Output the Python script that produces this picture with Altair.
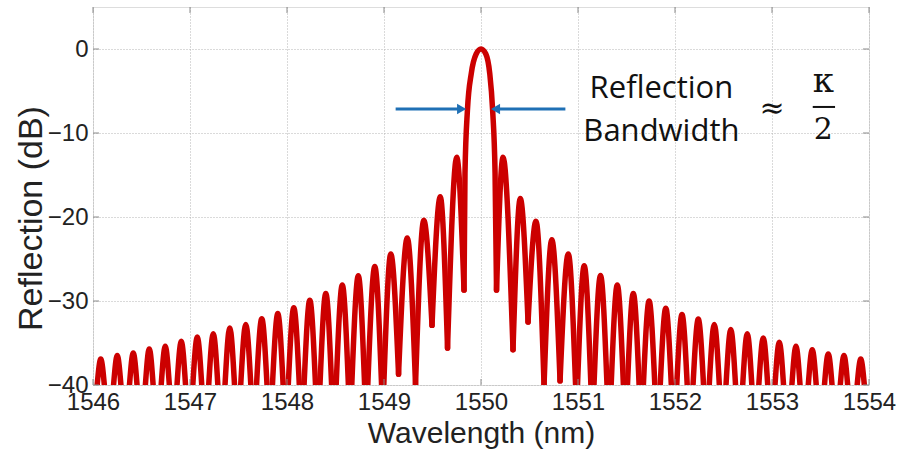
import altair as alt
import pandas as pd

# ---- data ----
# Each lobe of the spectrum: where it leaves the bottom (or its visible null),
# its peak, and where it returns to the bottom (or its visible null).
lobe_start_wl = [1546.043, 1546.212, 1546.376, 1546.54, 1546.703, 1546.866, 1547.029, 1547.193,
                 1547.361, 1547.523, 1547.686, 1547.85, 1548.013, 1548.176, 1548.34, 1548.507,
                 1548.668, 1548.833, 1548.998, 1549.15, 1549.325, 1549.495, 1549.655,
                 1550.16, 1550.33, 1550.485, 1550.65, 1550.815, 1550.995, 1551.165, 1551.342,
                 1551.51, 1551.674, 1551.848, 1552.018, 1552.186, 1552.353, 1552.526, 1552.698,
                 1552.864, 1553.031, 1553.205, 1553.374, 1553.541, 1553.704, 1553.878]
lobe_start_db = [-40, -40, -40, -40, -40, -40, -40, -40,
                 -40, -40, -40, -40, -40, -40, -40, -40,
                 -40, -40, -40, -38.7, -40, -32.9, -35.6,
                 -28.7, -35.8, -32.5, -40, -39.5, -40, -40, -40,
                 -40, -40, -40, -40, -40, -40, -40, -40,
                 -40, -40, -40, -40, -40, -40, -40]
lobe_peak_wl = [1546.08, 1546.25, 1546.415, 1546.58, 1546.745, 1546.91, 1547.075, 1547.24,
                1547.41, 1547.575, 1547.74, 1547.905, 1548.07, 1548.235, 1548.40, 1548.57,
                1548.735, 1548.905, 1549.07, 1549.24, 1549.41, 1549.58, 1549.75,
                1550.227, 1550.405, 1550.567, 1550.73, 1550.90, 1551.064, 1551.232, 1551.405,
                1551.57, 1551.733, 1551.905, 1552.072, 1552.24, 1552.405, 1552.575, 1552.745,
                1552.91, 1553.075, 1553.247, 1553.415, 1553.58, 1553.742, 1553.915]
lobe_peak_db = [-36.9, -36.5, -36.2, -35.7, -35.4, -34.8, -34.3, -33.9,
                -33.2, -32.8, -32.1, -31.5, -30.8, -29.9, -29.1, -28.1,
                -27.0, -25.9, -24.4, -22.5, -20.4, -17.6, -12.9,
                -12.9, -17.8, -20.5, -22.7, -24.4, -25.8, -26.95, -28.1,
                -29.1, -30.0, -30.85, -31.6, -32.15, -32.8, -33.4, -33.9,
                -34.4, -34.9, -35.4, -35.8, -36.3, -36.5, -36.9]
lobe_end_wl = [1546.117, 1546.288, 1546.454, 1546.62, 1546.787, 1546.954, 1547.121, 1547.287,
               1547.459, 1547.627, 1547.794, 1547.96, 1548.127, 1548.294, 1548.46, 1548.633,
               1548.80, 1548.975, 1549.15, 1549.325, 1549.495, 1549.655, 1549.825,
               1550.33, 1550.485, 1550.65, 1550.815, 1550.975, 1551.133, 1551.299, 1551.468,
               1551.63, 1551.792, 1551.962, 1552.126, 1552.294, 1552.457, 1552.624, 1552.792,
               1552.956, 1553.119, 1553.289, 1553.456, 1553.619, 1553.78, 1553.952]
lobe_end_db = [-40, -40, -40, -40, -40, -40, -40, -40,
               -40, -40, -40, -40, -40, -40, -40, -40,
               -40, -40, -38.7, -40, -32.9, -35.6, -28.7,
               -35.8, -32.5, -40, -39.5, -40, -40, -40, -40,
               -40, -40, -40, -40, -40, -40, -40, -40,
               -40, -40, -40, -40, -40, -40, -40]

# main reflection lobe
main_wl = [1549.825, 1549.835, 1549.86, 1549.90, 1549.95, 1550.0,
           1550.05, 1550.09, 1550.12, 1550.145, 1550.16]
main_db = [-28.7, -14.8, -7.3, -2.9, -0.6, 0.0,
           -0.6, -2.9, -7.3, -14.8, -28.7]

x_ticks = [1546, 1547, 1548, 1549, 1550, 1551, 1552, 1553, 1554]
y_ticks = [-40, -30, -20, -10, 0]

# annotation: arrows and text
arrow_x1 = [1549.12, 1550.87]
arrow_x2 = [1549.80, 1550.15]
arrow_y = [-7.15, -7.15]
arrow_shape = ["triangle-right", "triangle-left"]
label_text = ["Reflection", "Bandwidth"]
label_x = [1551.86, 1551.86]
label_y = [-4.8, -9.9]

RED = "#cc0000"
BLUE = "#1f70b5"
W, H = 776, 378

rows = []
for i in range(len(lobe_peak_wl)):
    rows.append({"lobe": i, "k": 0, "wl": lobe_start_wl[i], "db": lobe_start_db[i]})
    rows.append({"lobe": i, "k": 1, "wl": lobe_peak_wl[i], "db": lobe_peak_db[i]})
    rows.append({"lobe": i, "k": 2, "wl": lobe_end_wl[i], "db": lobe_end_db[i]})
for j, (a, b) in enumerate(zip(main_wl, main_db)):
    rows.append({"lobe": 999, "k": j, "wl": a, "db": b})
curve = pd.DataFrame(rows)

xs = alt.Scale(domain=[1546, 1554], nice=False, zero=False)
ys = alt.Scale(domain=[-40, 5], nice=False, zero=False)

grid_dash = [1, 2]
FONT = "Liberation Sans"
x_axis = alt.Axis(values=x_ticks, format="d", title="Wavelength (nm)", grid=True,
                  gridDash=grid_dash, gridColor="#b5b5b5", gridWidth=1,
                  ticks=False, tickSize=0, domain=False, labelPadding=5,
                  labelFlush=False, labelFont=FONT, labelFontSize=24,
                  labelColor="#222", titleFont=FONT, titleFontSize=30,
                  titleFontWeight="normal", titleColor="#222", titleX=W / 2, titleY=48,
                  titleBaseline="middle", labelOverlap=False)
y_axis = alt.Axis(values=y_ticks, title="Reflection (dB)", grid=True,
                  gridDash=grid_dash, gridColor="#b5b5b5", gridWidth=1,
                  ticks=False, tickSize=0, domain=False, labelPadding=5,
                  labelFlush=False, labelFont=FONT, labelFontSize=24,
                  labelColor="#222", titleFont=FONT, titleFontSize=34,
                  titleFontWeight="normal", titleColor="#222", titleX=-62, titleY=211,
                  titleBaseline="middle", titleAngle=-90, titleAlign="center",
                  labelOverlap=False)

line = alt.Chart(curve).mark_line(color=RED, strokeWidth=5.5, interpolate="monotone",
                                  clip=True, strokeJoin="round", strokeCap="round").encode(
    x=alt.X("wl:Q", scale=xs, axis=x_axis),
    y=alt.Y("db:Q", scale=ys, axis=y_axis),
    detail="lobe:N",
    order="k:Q",
)

xt = pd.DataFrame({"v": x_ticks})
yt = pd.DataFrame({"v": y_ticks})
TK = "#8a8a8a"
tick_bottom = alt.Chart(xt).mark_rule(color=TK, strokeWidth=1).encode(
    x=alt.X("v:Q", scale=xs), y=alt.value(H), y2=alt.value(H - 6))
tick_top = alt.Chart(xt).mark_rule(color=TK, strokeWidth=1).encode(
    x=alt.X("v:Q", scale=xs), y=alt.value(0), y2=alt.value(6))
tick_left = alt.Chart(yt).mark_rule(color=TK, strokeWidth=1).encode(
    y=alt.Y("v:Q", scale=ys), x=alt.value(0), x2=alt.value(6))
tick_right = alt.Chart(yt).mark_rule(color=TK, strokeWidth=1).encode(
    y=alt.Y("v:Q", scale=ys), x=alt.value(W), x2=alt.value(W - 6))

arr = pd.DataFrame({"x1": arrow_x1, "x2": arrow_x2, "y": arrow_y, "shape": arrow_shape})
arrow_lines = alt.Chart(arr).mark_rule(color=BLUE, strokeWidth=3).encode(
    x=alt.X("x1:Q", scale=xs), x2="x2:Q", y=alt.Y("y:Q", scale=ys))
arrow_heads = alt.Chart(arr).mark_point(color=BLUE, filled=True, opacity=1, size=110).encode(
    x=alt.X("x2:Q", scale=xs), y=alt.Y("y:Q", scale=ys),
    shape=alt.Shape("shape:N", scale=None))

lab = pd.DataFrame({"t": label_text, "x": label_x, "y": label_y})
labels = alt.Chart(lab).mark_text(font="Open Sans", fontSize=31, color="#111",
                                  baseline="middle", align="center").encode(
    x=alt.X("x:Q", scale=xs), y=alt.Y("y:Q", scale=ys), text="t:N")

sym = pd.DataFrame({"t": ["\u2248", "\u03ba", "2"], "x": [1553.0, 1553.53, 1553.53],
                    "y": [-7.1, -3.9, -9.6], "s": [30, 34, 30]})
symbols = alt.Chart(sym).mark_text(font="DejaVu Serif", color="#111",
                                   baseline="middle", align="center").encode(
    x=alt.X("x:Q", scale=xs), y=alt.Y("y:Q", scale=ys), text="t:N",
    size=alt.Size("s:Q", scale=None))
bar = pd.DataFrame({"x1": [1553.42], "x2": [1553.65], "y": [-6.9]})
frac = alt.Chart(bar).mark_rule(color="#111", strokeWidth=2).encode(
    x=alt.X("x1:Q", scale=xs), x2="x2:Q", y=alt.Y("y:Q", scale=ys))

chart = alt.layer(line, tick_bottom, tick_top, tick_left, tick_right,
                  arrow_lines, arrow_heads, labels, symbols, frac).properties(
    width=W, height=H,
    padding={"left": 93, "top": 7, "right": 34, "bottom": 65},
    autosize=alt.AutoSizeParams(type="none"),
).configure_view(stroke="#8a8a8a", strokeWidth=1).configure(background="white")

chart.save("out.html", embed_options={"renderer": "svg", "actions": False})
